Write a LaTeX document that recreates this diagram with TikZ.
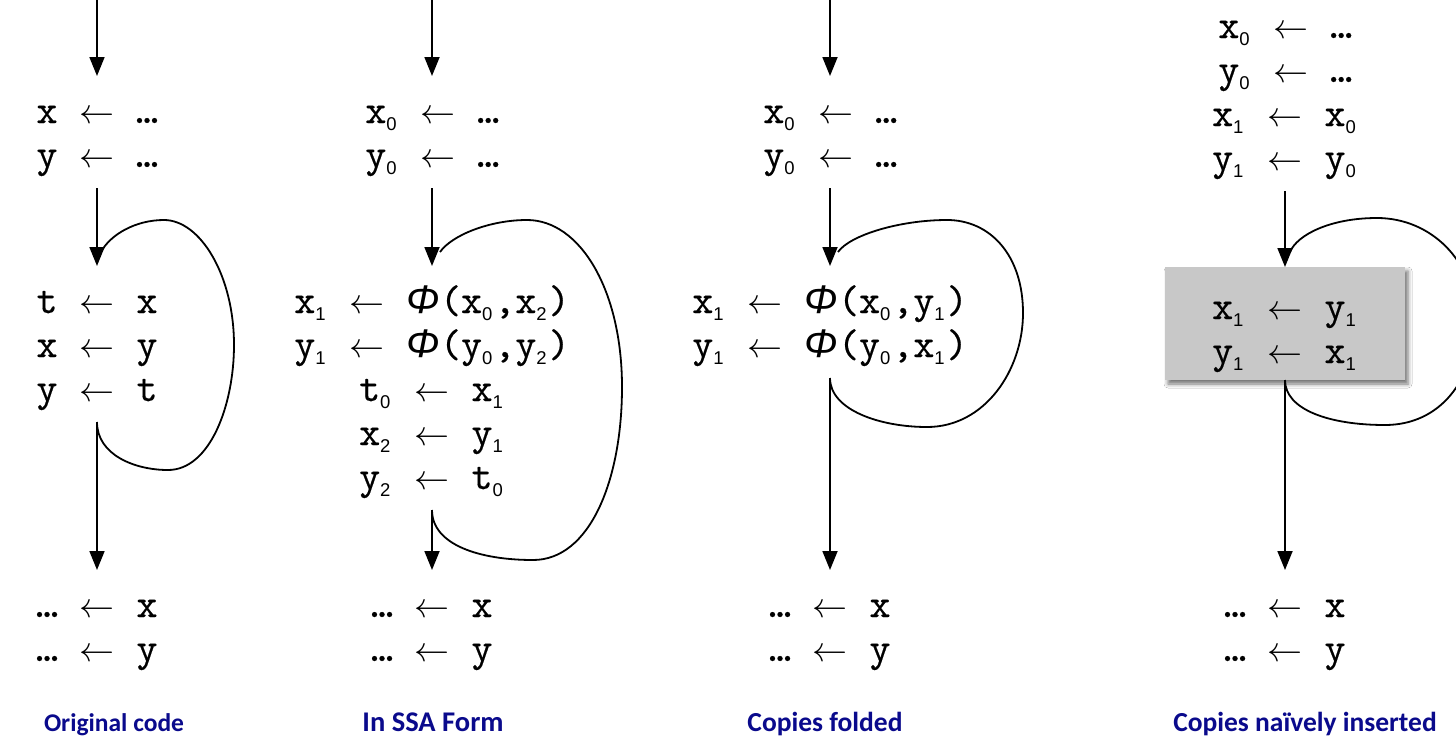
\RequirePackage{fix-cm}
\documentclass[tikz,border=0pt]{standalone}
\usepackage{fontspec}
\usepackage{graphicx}
\usetikzlibrary{arrows.meta,shadows.blur}

\newfontfamily\codefont{lmmono10-regular.otf}[FakeBold=0.45]
\newfontfamily\subfont{Liberation Sans}
\newfontfamily\phifont{Liberation Sans}
\newfontfamily\lblfont{Carlito}

\definecolor{lblblue}{RGB}{10,10,140}
\definecolor{boxgray}{RGB}{200,200,200}

% subscript digit, assignment arrow, ellipsis, phi
\newcommand\subs[1]{\raisebox{-7pt}{\subfont\fontsize{18.5}{18.5}\selectfont#1}\kern2pt}
\newcommand\lar{\hspace{22pt}{\fontsize{35}{35}\selectfont$\leftarrow$}\hspace{22pt}}
\newcommand\dts{\makebox[21pt][c]{.\kern-13.5pt.\kern-13.5pt.}}
\newcommand\phiv{{\phifont\itshape Φ}}
% first/last line struts fixing the block height
\newcommand\ftop{\vrule height 40pt depth 0pt width 0pt}
\newcommand\fbot{\vrule height 0pt depth 14pt width 0pt}
\newcommand\ftopb{\vrule height 45pt depth 0pt width 0pt}
\newcommand\fbotb{\vrule height 0pt depth 10pt width 0pt}
% caption font at a given size
\newcommand\lblsize[1]{\lblfont\bfseries\fontsize{#1}{#1}\selectfont}

\tikzset{
  code/.style={font=\codefont\fontsize{40}{44}\selectfont, align=center,
    inner xsep=0pt, inner ysep=7pt, outer sep=0pt, anchor=north},
  flow/.style={line width=1.8pt, -{Triangle[width=15pt,length=19pt]}},
  backedge/.style={line width=1.8pt},
  swapbox/.style={fill=boxgray, minimum width=240pt,
    blur shadow={shadow xshift=3pt, shadow yshift=-4pt, shadow blur radius=4pt, shadow opacity=55}},
  lbl/.style={text=lblblue, anchor=base, inner sep=0pt}
}

\begin{document}
\begin{tikzpicture}[x=1pt, y=-1pt]
\useasboundingbox (0,0) rectangle (1456,739);
\fill[white] (0,0) rectangle (1456,739);
\clip (0,0) rectangle (1456,739);

% ---- original code
\coordinate (s1) at (97,0);
\coordinate (j1) at (101,252);
\node[code] (a1) at (97,76) {\ftop x\lar\dts\\ y\lar\dts\fbot};
\node[code] (b1) at (97,266) {\ftop t\lar x\\ x\lar y\\ y\lar t\fbot};
\node[code] (c1) at (97,570) {\ftop\dts\lar x\\ \dts\lar y\fbot};
\draw[flow] (s1) -- (a1);
\draw[flow] (a1) -- (b1);
\draw[flow] (b1) -- (c1);
\draw[backedge] (b1.south) .. controls (97,455) and (135,470) .. (168,470)
  .. controls (210,470) and (234,405) .. (234,345)
  .. controls (234,275) and (200,220) .. (164,220)
  .. controls (135,220) and (110,235) .. (j1);

% ---- SSA form
\coordinate (s2) at (432,0);
\coordinate (j2) at (440,252);
\node[code] (a2) at (432,76) {\ftop x\subs0\lar\dts\\ y\subs0\lar\dts\fbot};
\node[code] (b2) at (432,266) {\ftop x\subs1\lar\phiv(x\subs0,x\subs2)\\
  y\subs1\lar\phiv(y\subs0,y\subs2)\\ t\subs0\lar x\subs1\\ x\subs2\lar y\subs1\\
  y\subs2\lar t\subs0\fbot};
\node[code] (c2) at (432,570) {\ftop\dts\lar x\\ \dts\lar y\fbot};
\draw[flow] (s2) -- (a2);
\draw[flow] (a2) -- (b2);
\draw[flow] (b2) -- (c2);
\draw[backedge] (b2.south) .. controls (432,545) and (480,560) .. (533,560)
  .. controls (590,560) and (622,480) .. (622,387)
  .. controls (622,290) and (580,220) .. (527,220)
  .. controls (490,220) and (452,235) .. (j2);

% ---- copies folded
\coordinate (s3) at (830,0);
\coordinate (j3) at (838,252);
\node[code] (a3) at (830,76) {\ftop x\subs0\lar\dts\\ y\subs0\lar\dts\fbot};
\node[code] (b3) at (830,266) {\ftop x\subs1\lar\phiv(x\subs0,y\subs1)\\
  y\subs1\lar\phiv(y\subs0,x\subs1)\fbot};
\node[code] (c3) at (830,570) {\ftop\dts\lar x\\ \dts\lar y\fbot};
\draw[flow] (s3) -- (a3);
\draw[flow] (a3) -- (b3);
\draw[flow] (b3) -- (c3);
\draw[backedge] (b3.south) .. controls (830,410) and (880,427) .. (927,427)
  .. controls (985,427) and (1023,370) .. (1023,313)
  .. controls (1023,255) and (990,220) .. (947,220)
  .. controls (900,220) and (850,235) .. (j3);

% ---- copies naively inserted
\coordinate (j4) at (1290,252);
\node[code] (a4) at (1285,-9) {\ftop x\subs0\lar\dts\\ y\subs0\lar\dts\\
  x\subs1\lar x\subs0\\ y\subs1\lar y\subs0\fbot};
\node[code, swapbox] (b4) at (1285,267) {\ftopb x\subs1\lar y\subs1\\ y\subs1\lar x\subs1\fbotb};
\node[code] (c4) at (1285,570) {\ftop\dts\lar x\\ \dts\lar y\fbot};
\draw[flow] (a4) -- (b4);
\draw[flow] (b4) -- (c4);
\draw[backedge] (b4.south) .. controls (1285,410) and (1330,425) .. (1385,425)
  .. controls (1440,425) and (1475,380) .. (1475,320)
  .. controls (1475,260) and (1430,218) .. (1377,218)
  .. controls (1330,218) and (1297,235) .. (j4);

% ---- captions
\node[lbl, font=\lblsize{25.5}] (l1) at (114,731) {Original code};
\node[lbl, font=\lblsize{28.5}] (l2) at (433,731) {In SSA Form};
\node[lbl, font=\lblsize{27.5}] (l3) at (825,731) {Copies folded};
\node[lbl, font=\lblsize{27.5}] (l4) at (1305,731) {Copies naïvely inserted};
\end{tikzpicture}
\end{document}
